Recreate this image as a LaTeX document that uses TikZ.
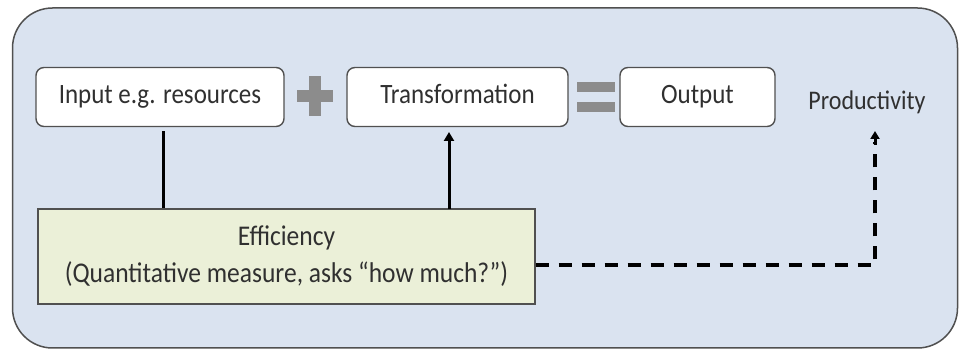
\documentclass[tikz,border=0pt]{standalone}
\usepackage{fontspec}
\usepackage{graphicx}
\setmainfont{Carlito}
\usetikzlibrary{arrows.meta}
\definecolor{bgblue}{HTML}{DAE3F0}
\definecolor{effgreen}{HTML}{EBF0D8}
\definecolor{opgray}{HTML}{8C8C8C}
\definecolor{edgegray}{HTML}{505050}
\definecolor{txtgray}{HTML}{303030}
\newcommand\tallt[1]{\scalebox{1}[1.12]{#1}}
\begin{document}
\begin{tikzpicture}[x=1pt,y=-1pt,
  wbox/.style={draw=edgegray,line width=1.4pt,fill=white,rounded corners=8pt,
    minimum height=59pt,inner sep=0pt,text height=19pt,text depth=6pt,
    font=\fontsize{25}{30}\selectfont,text=txtgray},
  conn/.style={line width=3pt,black},
  dashconn/.style={line width=3.5pt,black,dash pattern=on 13pt off 10pt},
  optxt/.style={fill=opgray,draw=none}]
\useasboundingbox (0,0) rectangle (961,352);
\node[draw=edgegray,line width=1.5pt,fill=bgblue,rounded corners=40pt,
  minimum width=945pt,minimum height=340pt,inner sep=0pt] (frame) at (485,178) {};
\node[wbox,minimum width=248pt] (input) at (160,97) {\tallt{Input e.g. resources}};
\node[wbox,minimum width=221pt] (trans) at (457.5,97) {\tallt{Transformation}};
\node[wbox,minimum width=155pt] (output) at (697.5,97) {\tallt{Output}};
\node[font=\fontsize{24}{28}\selectfont,text=txtgray,inner sep=0pt,text height=19pt,text depth=6pt] (prod) at (867,103) {\tallt{Productivity}};
\node[draw=edgegray,line width=1.4pt,fill=effgreen,minimum width=497pt,minimum height=95pt,
  inner sep=0pt,align=center,font=\fontsize{25.5}{37}\selectfont,text=txtgray] (eff) at (286.5,256.5)
  {\tallt{Efficiency}\\\tallt{(Quantitative measure, asks ``how much?'')}};
% plus sign
\node[optxt,minimum width=36pt,minimum height=12pt,inner sep=0pt] (plush) at (315,96) {};
\node[optxt,minimum width=12pt,minimum height=40pt,inner sep=0pt] (plusv) at (315,96) {};
% equals sign
\node[optxt,minimum width=38pt,minimum height=10pt,inner sep=0pt] (eqa) at (596,87) {};
\node[optxt,minimum width=38pt,minimum height=10pt,inner sep=0pt] (eqb) at (596,107) {};
% connectors
\draw[conn] (input.south) ++(3,4) coordinate (ia) -- (ia |- eff.north);
\coordinate (ta) at (449,209);
\draw[conn,-{Triangle[length=9pt,width=10pt]}] (ta) -- (ta |- 0,132);
\coordinate (corner) at (875,265);
\draw[dashconn] (eff.east |- corner) -- (corner) -- (corner |- 0,142);
\draw[black,line width=3pt,-{Triangle[length=8pt,width=9pt]}] (corner |- 0,145) -- (corner |- 0,131);
\end{tikzpicture}
\end{document}
